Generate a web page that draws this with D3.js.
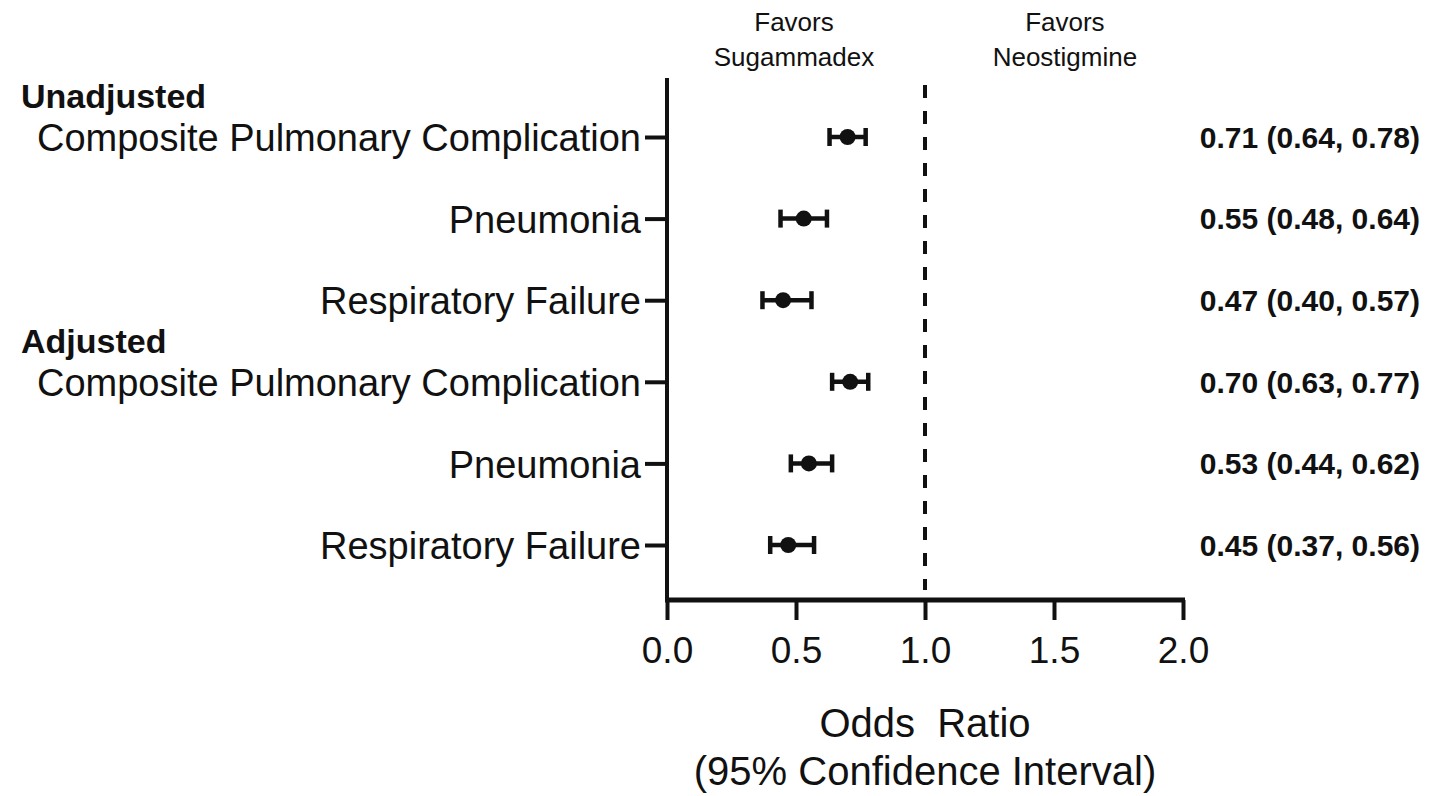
<!DOCTYPE html>
<html>
<head>
<meta charset="utf-8">
<script src="https://cdn.jsdelivr.net/npm/d3@7/dist/d3.min.js"></script>
<style>
  body { margin: 0; background: #fff; }
  svg text { font-family: "Liberation Sans", Arial, sans-serif; fill: #111; }
</style>
</head>
<body>
<div id="chart"></div>
<script>
// outcome rows, top to bottom
var outcomes = ["Composite Pulmonary Complication", "Pneumonia", "Respiratory Failure",
                "Composite Pulmonary Complication", "Pneumonia", "Respiratory Failure"];
var groups = ["Unadjusted", "Adjusted"];
var groupStart = [0, 3]; // row index where each group begins

var oddsRatio = [0.70, 0.53, 0.45, 0.71, 0.55, 0.47];
var ciLow     = [0.63, 0.44, 0.37, 0.64, 0.48, 0.40];
var ciHigh    = [0.77, 0.62, 0.56, 0.78, 0.64, 0.57];

// printed labels on the right
var orLabels = ["0.71 (0.64, 0.78)", "0.55 (0.48, 0.64)", "0.47 (0.40, 0.57)",
                "0.70 (0.63, 0.77)", "0.53 (0.44, 0.62)", "0.45 (0.37, 0.56)"];

var xTicks = [0, 0.5, 1, 1.5, 2];

var width = 1429, height = 796;
var svg = d3.select("#chart").append("svg")
    .attr("width", width)
    .attr("height", height);

var xScale = d3.scaleLinear().domain([0, 2]).range([667, 1183]);
var yScale = d3.scalePoint().domain(d3.range(outcomes.length)).range([137, 545]);

var axisTop = 78, axisBottom = 600;

// y axis
var yAxis = d3.axisLeft(yScale)
    .tickSize(22)
    .tickSizeOuter(0)
    .tickFormat(function (i) { return outcomes[i]; });

var gy = svg.append("g")
    .attr("transform", "translate(" + xScale(0) + ",0)")
    .call(yAxis);
gy.select(".domain").remove();
gy.selectAll(".tick line").attr("stroke", "#111").attr("stroke-width", 4);
gy.selectAll(".tick text")
    .attr("x", -26)
    .attr("dy", "0.36em")
    .style("font-size", "38px")
    .attr("fill", "#111");

svg.append("line")
    .attr("x1", xScale(0)).attr("x2", xScale(0))
    .attr("y1", axisTop).attr("y2", axisBottom + 2)
    .attr("stroke", "#111").attr("stroke-width", 4);

// x axis
var xAxis = d3.axisBottom(xScale)
    .tickValues(xTicks)
    .tickSize(20)
    .tickSizeOuter(0)
    .tickFormat(d3.format(".1f"));

var gx = svg.append("g")
    .attr("transform", "translate(0," + axisBottom + ")")
    .call(xAxis);
gx.select(".domain").attr("stroke", "#111").attr("stroke-width", 5)
    .attr("d", "M" + (xScale(0) - 2) + ",0H" + (xScale(2) + 2));
gx.selectAll(".tick line").attr("stroke", "#111").attr("stroke-width", 4);
gx.selectAll(".tick text")
    .attr("y", 63)
    .attr("dy", 0)
    .style("font-size", "37px")
    .attr("fill", "#222");

// reference line at OR = 1
svg.append("line")
    .attr("x1", xScale(1)).attr("x2", xScale(1))
    .attr("y1", 85).attr("y2", 590)
    .attr("stroke", "#111").attr("stroke-width", 4)
    .attr("stroke-dasharray", "13,13");

// group headers
svg.selectAll("text.group")
    .data(groups)
    .enter().append("text")
    .attr("class", "group")
    .attr("x", 21)
    .attr("y", function (d, i) { return yScale(groupStart[i]) - 41; })
    .attr("dy", "0.36em")
    .style("font-size", "34px")
    .style("font-weight", "bold")
    .text(function (d) { return d; });

// error bars
var rows = svg.selectAll("g.row")
    .data(oddsRatio)
    .enter().append("g")
    .attr("class", "row");

rows.append("line")
    .attr("x1", function (d, i) { return xScale(ciLow[i]); })
    .attr("x2", function (d, i) { return xScale(ciHigh[i]); })
    .attr("y1", function (d, i) { return yScale(i); })
    .attr("y2", function (d, i) { return yScale(i); })
    .attr("stroke", "#111").attr("stroke-width", 4.5);

rows.append("line")
    .attr("x1", function (d, i) { return xScale(ciLow[i]); })
    .attr("x2", function (d, i) { return xScale(ciLow[i]); })
    .attr("y1", function (d, i) { return yScale(i) - 9; })
    .attr("y2", function (d, i) { return yScale(i) + 9; })
    .attr("stroke", "#111").attr("stroke-width", 4.5);

rows.append("line")
    .attr("x1", function (d, i) { return xScale(ciHigh[i]); })
    .attr("x2", function (d, i) { return xScale(ciHigh[i]); })
    .attr("y1", function (d, i) { return yScale(i) - 9; })
    .attr("y2", function (d, i) { return yScale(i) + 9; })
    .attr("stroke", "#111").attr("stroke-width", 4.5);

rows.append("circle")
    .attr("cx", function (d) { return xScale(d); })
    .attr("cy", function (d, i) { return yScale(i); })
    .attr("r", 8)
    .attr("fill", "#111");

// right side estimates
svg.selectAll("text.orlabel")
    .data(orLabels)
    .enter().append("text")
    .attr("class", "orlabel")
    .attr("x", 1420)
    .attr("y", function (d, i) { return yScale(i); })
    .attr("dy", "0.36em")
    .attr("text-anchor", "end")
    .style("font-size", "30px")
    .style("font-weight", "bold")
    .text(function (d) { return d; });

// favors headers
var favors = [["Favors", "Sugammadex"], ["Favors", "Neostigmine"]];
var favorsX = [0.5, 1.55];
favors.forEach(function (lines, k) {
    svg.append("text")
        .attr("text-anchor", "middle")
        .style("font-size", "26px")
        .attr("fill", "#333")
        .selectAll("tspan")
        .data(lines)
        .enter().append("tspan")
        .attr("x", xScale(favorsX[k]) - 2)
        .attr("y", function (d, i) { return 31 + i * 35; })
        .text(function (d) { return d; });
});

// axis title
var title = ["Odds\u00a0\u00a0Ratio", "(95% Confidence Interval)"];
svg.append("text")
    .attr("text-anchor", "middle")
    .style("font-size", "40px")
    .selectAll("tspan")
    .data(title)
    .enter().append("tspan")
    .attr("x", xScale(1))
    .attr("y", function (d, i) { return 737 + i * 48; })
    .text(function (d) { return d; });
</script>
</body>
</html>
